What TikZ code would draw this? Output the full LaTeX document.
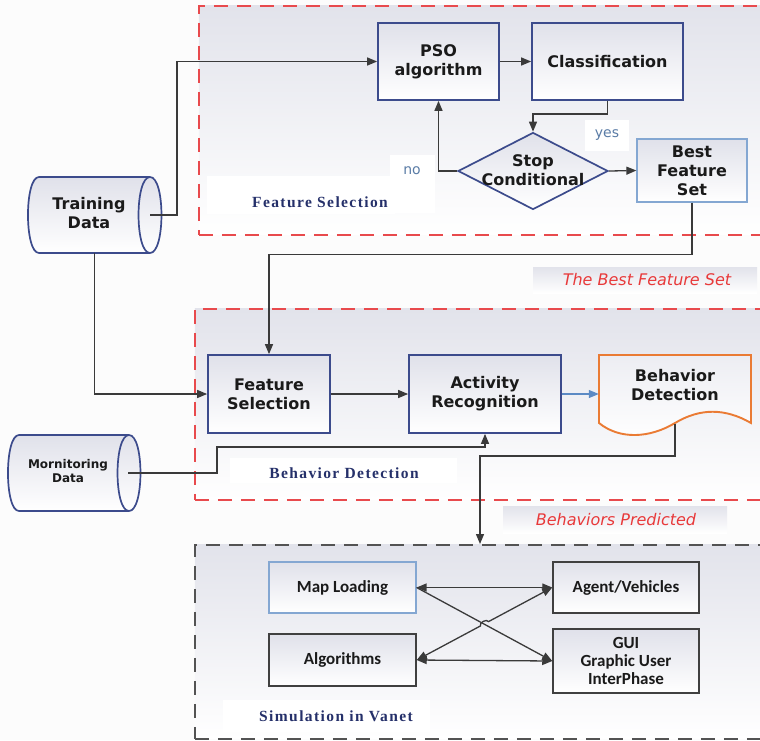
\documentclass[tikz,border=0pt]{standalone}
\usepackage{fontspec}
\setmainfont{DejaVu Sans}
\newfontfamily\calfont{Carlito}
\newfontfamily\serfont{Liberation Serif}[LetterSpace=9]
\usetikzlibrary{arrows.meta,shapes.geometric,calc}
\definecolor{navy}{HTML}{3C4B8C}
\definecolor{lblue}{HTML}{84A7D2}
\definecolor{dgrey}{HTML}{404040}
\definecolor{linegrey}{HTML}{3A3A3A}
\definecolor{reddash}{HTML}{E84A4D}
\definecolor{labnavy}{HTML}{25306A}
\definecolor{boxtop}{HTML}{E0E1EA}
\definecolor{regtop}{HTML}{E2E3EB}
\definecolor{orng}{HTML}{EA7B34}
\definecolor{yesblue}{HTML}{5A7CA6}
\definecolor{arrowblue}{HTML}{5B8AC4}
\definecolor{redtext}{HTML}{E8393A}
\definecolor{txt}{HTML}{1A1A1A}
\tikzset{
  fbox/.style={draw=navy, line width=1.7pt, top color=boxtop, bottom color=white, align=center, inner sep=0pt, text=txt, font=\bfseries\fontsize{16}{19}\selectfont},
  lbbox/.style={fbox, draw=lblue, line width=1.3pt},
  sbox/.style={draw=dgrey, line width=1.5pt, top color=boxtop, bottom color=white, align=center, inner sep=0pt, text=txt, font=\calfont\bfseries\fontsize{17}{18}\selectfont},
  conn/.style={draw=linegrey, line width=1.3pt},
  arr/.style={conn, -{Triangle[length=10pt,width=8pt]}},
  darr/.style={conn, {Triangle[length=10pt,width=8pt]}-{Triangle[length=10pt,width=8pt]}},
  regionbox/.style={draw=reddash, line width=1.9pt, dash pattern=on 14pt off 9pt, top color=regtop, bottom color=white, inner sep=0pt, anchor=north west},
  reglabel/.style={text=labnavy, font=\serfont\bfseries\fontsize{15.5}{17}\selectfont},
  whitebg/.style={fill=white, draw=none, inner sep=0pt, anchor=north west},
  greybg/.style={top color=regtop, bottom color=white, draw=none, inner sep=0pt, anchor=north west},
  redlab/.style={text=redtext, font=\itshape\fontsize{16}{18}\selectfont},
  yn/.style={text=yesblue, font=\fontsize{14}{16}\selectfont},
  drumfill/.style={draw=navy, line width=1.7pt, top color=boxtop, bottom color=white},
  plain/.style={draw=none, inner sep=0pt}
}
\begin{document}
\begin{tikzpicture}[x=1pt,y=-1pt]
\useasboundingbox (0,0) rectangle (760,740);
\fill[white!99!black] (0,0) rectangle (760,740);
% regions
\node[regionbox, minimum width=567pt, minimum height=229pt] (fsreg) at (198,5) {};
\node[regionbox, minimum width=571pt, minimum height=191pt] (bdreg) at (194,308) {};
\node[regionbox, draw=dgrey!90, minimum width=571pt, minimum height=194pt] (simreg) at (194,544) {};
% label backgrounds
\node[whitebg, minimum width=188pt, minimum height=38pt] (fslabbg) at (207,176) {};
\node[whitebg, minimum width=227pt, minimum height=25pt] (bdlabbg) at (230,458) {};
\node[whitebg, minimum width=207pt, minimum height=32pt] (simlabbg) at (223,700) {};
\node[whitebg, minimum width=45pt, minimum height=58pt] (nobg) at (390,155) {};
\node[whitebg, minimum width=44pt, minimum height=31pt] (yesbg) at (585,120) {};
\node[greybg, minimum width=224pt, minimum height=26pt] (bfslabbg) at (533,267) {};
\node[greybg, minimum width=224pt, minimum height=27pt] (bplabbg) at (503,506) {};
% region labels
\node[reglabel] (fslab) at (320,202) {Feature Selection};
\node[reglabel] (bdlab) at (344,473) {Behavior Detection};
\node[reglabel] (simlab) at (336,716) {Simulation in Vanet};
\node[yn] (nolab) at (412,171) {no};
\node[yn] (yeslab) at (607,135) {yes};
\node[redlab] (bfslab) at (647,280) {The Best Feature Set};
\node[redlab] (bplab) at (616,520) {Behaviors Predicted};
% top part
\node[fbox, minimum width=121pt, minimum height=77pt] (pso) at (438.5,61.5) {PSO\\algorithm};
\node[fbox, minimum width=151pt, minimum height=77pt] (cls) at (607.5,61.5) {Classification};
\node[diamond, draw=navy, line width=1.7pt, top color=boxtop, bottom color=white, minimum width=150pt, minimum height=77pt, inner sep=0pt] (sc) at (533,171) {};
\node[plain, align=center, text=txt, font=\bfseries\fontsize{16}{19}\selectfont] (sctext) at (533,170) {Stop\\Conditional};
\node[lbbox, minimum width=110pt, minimum height=63pt] (bfs) at (692,170.5) {Best\\Feature\\Set};
% training data drum
\path[drumfill] (150,177) -- (39,177) .. controls (24.3,177) and (24.3,253) .. (39,253) -- (150,253) .. controls (165.3,253) and (165.3,177) .. (150,177) -- cycle;
\draw[navy, line width=1.7pt] (150,177) .. controls (134.7,177) and (134.7,253) .. (150,253);
\node[plain, minimum width=133pt, minimum height=76pt] (td) at (94.5,215) {};
\node[plain, align=center, text=txt, font=\bfseries\fontsize{16}{19}\selectfont] (tdtext) at (89,213) {Training\\Data};
\coordinate (tdR) at (150,215);
% monitoring data drum
\path[drumfill] (129,435) -- (19,435) .. controls (4.3,435) and (4.3,511) .. (19,511) -- (129,511) .. controls (144.3,511) and (144.3,435) .. (129,435) -- cycle;
\draw[navy, line width=1.7pt] (129,435) .. controls (113.7,435) and (113.7,511) .. (129,511);
\node[plain, minimum width=132pt, minimum height=76pt] (md) at (74,473) {};
\node[plain, align=center, text=txt, font=\bfseries\fontsize{12}{14}\selectfont] (mdtext) at (68,471) {Mornitoring\\Data};
\coordinate (mdR) at (128,473);
% middle part
\node[fbox, minimum width=122pt, minimum height=78pt] (fs) at (269,394) {Feature\\Selection};
\node[fbox, minimum width=152pt, minimum height=78pt] (ar) at (485,394) {Activity\\Recognition};
\path[draw=orng, line width=1.9pt, top color=boxtop!60, bottom color=white] (599,355) -- (751,355) -- (751,423) .. controls (725,408) and (700,408) .. (675,423) .. controls (650,438) and (620,440) .. (599,423) -- cycle;
\node[plain, minimum width=152pt, minimum height=78pt] (bd) at (675,394) {};
\node[plain, align=center, text=txt, font=\bfseries\fontsize{16}{19}\selectfont] (bdtext) at (675,385) {Behavior\\Detection};
\coordinate (bdW) at (675,424);
\coordinate (simTop) at (480,544);
% simulation part
\node[sbox, draw=lblue, line width=1.2pt, minimum width=147pt, minimum height=51pt] (ml) at (342.5,587.5) {Map Loading};
\node[sbox, minimum width=147pt, minimum height=52pt] (alg) at (342.5,660) {Algorithms};
\node[sbox, minimum width=146pt, minimum height=51pt] (agent) at (626,587.5) {Agent/Vehicles};
\node[sbox, minimum width=146pt, minimum height=64pt] (gui) at (626,661) {GUI\\Graphic User\\InterPhase};
% connectors
\draw[arr] (pso.east) -- (cls.west);
\draw[arr] (cls.south) -- ++(0,13) -| (sc.north);
\draw[arr] (sc.west) -| (pso.south);
\draw[arr] (sc.east) -- (bfs.west);
\draw[arr] (bfs.south) -- ++(0,52) -| (fs.north);
\draw[arr] (tdR) -- ++(27,0) |- (pso.west);
\draw[arr] (td.south) |- (fs.west);
\draw[arr] (fs.east) -- (ar.west);
\draw[draw=arrowblue, line width=1.1pt, -{Triangle[length=10pt,width=8pt]}] (ar.east) -- (bd.west);
\draw[arr] (mdR) -- ++(89,0) |- ($(ar.south)+(0,13)$) -- (ar.south);
\draw[arr] (bdW) -- ++(0,32) -| (simTop);
\draw[darr] (ml.east) -- (agent.west);
\draw[darr] (alg.east) -- (gui.west);
\draw[arr] (ml.east) -- (gui.west);
\draw[darr] (alg.east) -- ($(alg.east)!0.47!(agent.west)$) to[bend left=90] ($(alg.east)!0.53!(agent.west)$) -- (agent.west);
\end{tikzpicture}
\end{document}
